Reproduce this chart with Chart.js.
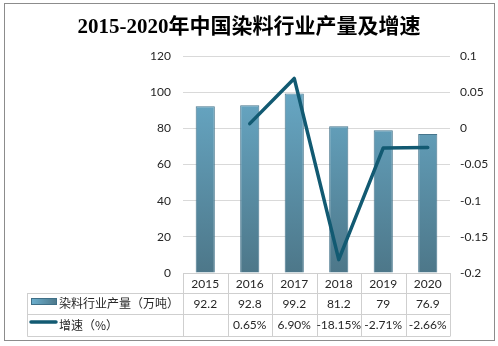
<!DOCTYPE html>
<html><head><meta charset="utf-8">
<script src="https://cdn.jsdelivr.net/npm/chart.js@4/dist/chart.umd.min.js"></script>
<style>html,body{margin:0;padding:0;background:#fff}canvas{display:block}</style>
</head><body>
<canvas id="c" width="498" height="346"></canvas>
<script>
const titleText = '2015-2020年中国染料行业产量及增速';
const categories = ['2015','2016','2017','2018','2019','2020'];
const outputValues = [92.2, 92.8, 99.2, 81.2, 79, 76.9];
const growthValues = [null, 0.0065, 0.069, -0.1815, -0.0271, -0.0266];
const outputLabels = ['92.2','92.8','99.2','81.2','79','76.9'];
const growthLabels = ['', '0.65%', '6.90%', '-18.15%', '-2.71%', '-2.66%'];
const seriesNames = ['染料行业产量（万吨）', '增速（%）'];

const numFont = "12px Lato, 'Noto Sans', sans-serif";
const cjkFont = "12px 'Noto Sans CJK SC', sans-serif";
const textColor = '#262626';
const lineColor = '#125a72';
const gridColor = '#d9d9d9';
const tableColor = '#cfcfcf';

function barGradient(ctx, y0, y1) {
  const g = ctx.createLinearGradient(0, y0, 0, y1);
  g.addColorStop(0, '#6cb0cf');
  g.addColorStop(1, '#4d7789');
  return g;
}

const tablePlugin = {
  id: 'tablePlugin',
  beforeDraw(chart) {
    const ctx = chart.ctx;
    ctx.save();
    ctx.fillStyle = '#fff';
    ctx.fillRect(0, 0, chart.width, chart.height);
    ctx.restore();
  },
  afterDraw(chart) {
    const ctx = chart.ctx;
    const xs = chart.scales.x;
    const n = categories.length;
    const cw = xs.width / n;
    const L = xs.left, R = xs.right;
    const y0 = chart.chartArea.bottom, y1 = y0 + 19.5, y2 = y1 + 21, y3 = y2 + 22;
    const tl = 27.5;
    ctx.save();
    // outer border
    ctx.strokeStyle = '#8c8c8c';
    ctx.lineWidth = 1;
    ctx.strokeRect(4.5, 3.5, 490, 337);
    // title
    ctx.fillStyle = '#000';
    ctx.font = "bold 21px 'Liberation Serif', 'Noto Sans CJK SC', serif";
    ctx.textAlign = 'center';
    ctx.textBaseline = 'middle';
    ctx.fillText(titleText, 249, 28);
    // table lines
    ctx.strokeStyle = tableColor;
    ctx.lineWidth = 1;
    ctx.beginPath();
    ctx.moveTo(L, y0 + 0.5); ctx.lineTo(R, y0 + 0.5);
    [y1, y2, y3].forEach(y => { ctx.moveTo(tl, Math.round(y) + 0.5); ctx.lineTo(R, Math.round(y) + 0.5); });
    for (let i = 0; i <= n; i++) {
      const x = Math.round(L + i * cw) + 0.5;
      ctx.moveTo(x, y0); ctx.lineTo(x, Math.round(y3) + 0.5);
    }
    ctx.moveTo(tl, Math.round(y1)); ctx.lineTo(tl, Math.round(y3) + 0.5);
    ctx.stroke();
    // texts
    ctx.fillStyle = textColor;
    ctx.font = numFont;
    ctx.textAlign = 'center';
    for (let i = 0; i < n; i++) {
      const cx = xs.getPixelForValue(i);
      ctx.fillText(categories[i], cx, (y0 + y1) / 2 + 1);
      ctx.fillText(outputLabels[i], cx, (y1 + y2) / 2 + 1);
      ctx.fillText(growthLabels[i], cx, (y2 + y3) / 2 + 1);
    }
    // legend keys
    const g = ctx.createLinearGradient(31, 0, 57, 0);
    g.addColorStop(0, '#6cb0cf'); g.addColorStop(1, '#4d7789');
    ctx.fillStyle = g;
    ctx.fillRect(31, 298, 26, 7);
    ctx.strokeStyle = '#3f6f87';
    ctx.strokeRect(31.5, 298.5, 25, 6);
    ctx.strokeStyle = lineColor;
    ctx.lineWidth = 3.5;
    ctx.lineCap = 'round';
    ctx.beginPath(); ctx.moveTo(31, 322); ctx.lineTo(56, 322); ctx.stroke();
    ctx.fillStyle = textColor;
    ctx.font = cjkFont;
    ctx.textAlign = 'left';
    ctx.fillText(seriesNames[0], 59, (y1 + y2) / 2 + 0.5);
    ctx.fillText(seriesNames[1], 59, (y2 + y3) / 2 + 0.5);
    ctx.restore();
  }
};

const ctx = document.getElementById('c').getContext('2d');
new Chart(ctx, {
  data: {
    labels: categories,
    datasets: [
      {
        type: 'line',
        label: seriesNames[1],
        data: growthValues,
        yAxisID: 'y1',
        borderColor: lineColor,
        borderWidth: 3.5,
        pointRadius: 0,
        tension: 0,
        borderJoinStyle: 'round',
        borderCapStyle: 'round',
        fill: false,
        order: 1
      },
      {
        type: 'bar',
        label: seriesNames[0],
        data: outputValues,
        yAxisID: 'y',
        backgroundColor: (c) => {
          const a = c.chart.chartArea;
          if (!a) return '#6aa9c7';
          return barGradient(c.chart.ctx, a.top, a.bottom);
        },
        borderColor: '#46758c',
        borderWidth: 1,
        categoryPercentage: 1,
        barPercentage: 0.43,
        order: 2
      }
    ]
  },
  options: {
    responsive: false,
    animation: false,
    layout: { padding: { top: 56, bottom: 73, left: 0, right: 0 } },
    plugins: { legend: { display: false }, title: { display: false }, tooltip: { enabled: false } },
    scales: {
      x: { display: false, offset: true },
      y: {
        position: 'left', min: 0, max: 120,
        ticks: { stepSize: 20, padding: 12, color: textColor, font: { family: "Lato, 'Noto Sans', sans-serif", size: 12 } },
        grid: { color: gridColor, drawTicks: false },
        border: { display: false },
        afterFit(s) { s.width = 183; }
      },
      y1: {
        position: 'right', min: -0.2, max: 0.1,
        ticks: {
          stepSize: 0.05, padding: 10, color: textColor,
          font: { family: "Lato, 'Noto Sans', sans-serif", size: 12 },
          callback: (v) => String(+(+v).toFixed(2))
        },
        grid: { drawOnChartArea: false, drawTicks: false },
        border: { display: false },
        afterFit(s) { s.width = 48; }
      }
    }
  },
  plugins: [tablePlugin]
});
</script>
</body></html>
